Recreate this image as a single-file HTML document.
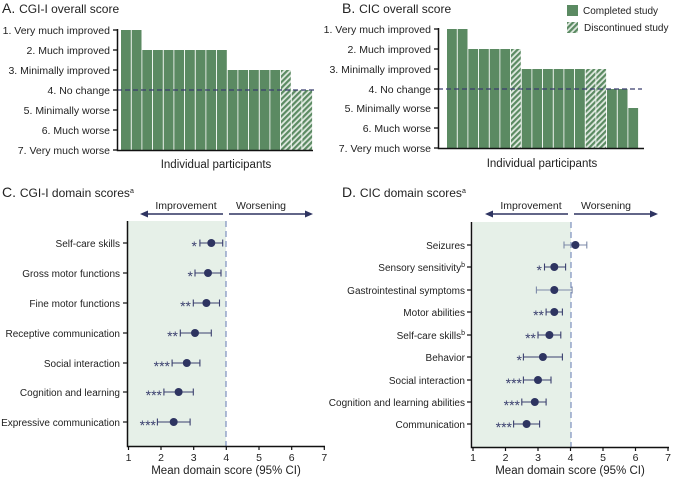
<!DOCTYPE html>
<html><head><meta charset="utf-8"><style>
html,body{margin:0;padding:0;background:#fff;}
svg{display:block;font-family:"Liberation Sans",sans-serif;}
</style></head><body>
<svg width="673" height="477" viewBox="0 0 673 477" xmlns="http://www.w3.org/2000/svg">
<defs>
<pattern id="h" width="4" height="4" patternUnits="userSpaceOnUse" patternTransform="rotate(45)">
<rect width="4" height="4" fill="#dfe9e0"/><rect width="2.2" height="4" fill="#5b8a62"/>
</pattern>
</defs>
<g fill="#222" font-size="11">
<text x="2" y="13" font-size="14">A. <tspan font-size="12">CGI-I overall score</tspan></text>
<text x="342" y="13" font-size="14">B. <tspan font-size="12">CIC overall score</tspan></text>
<text x="2" y="197" font-size="14">C. <tspan font-size="12">CGI-I domain scores<tspan font-size="7" dy="-4">a</tspan></tspan></text>
<text x="342" y="197" font-size="14">D. <tspan font-size="12">CIC domain scores<tspan font-size="7" dy="-4">a</tspan></tspan></text>
</g>
<!-- Legend -->
<rect x="567" y="5" width="11" height="11" fill="#5b8a62"/>
<text x="583" y="14" font-size="10" fill="#222">Completed study</text>
<rect x="567" y="22" width="11" height="11" fill="url(#h)"/>
<text x="584" y="31" font-size="10" fill="#222">Discontinued study</text>

<!-- Panel A -->
<g fill="#5b8a62">
<rect x="121" y="30" width="9.8" height="120"/><rect x="131.7" y="30" width="9.8" height="120"/>
<rect x="142.3" y="50" width="9.8" height="100"/><rect x="153" y="50" width="9.8" height="100"/><rect x="163.7" y="50" width="9.8" height="100"/><rect x="174.3" y="50" width="9.8" height="100"/><rect x="185" y="50" width="9.8" height="100"/><rect x="195.7" y="50" width="9.8" height="100"/><rect x="206.3" y="50" width="9.8" height="100"/><rect x="217" y="50" width="9.8" height="100"/>
<rect x="227.7" y="70" width="9.8" height="80"/><rect x="238.3" y="70" width="9.8" height="80"/><rect x="249" y="70" width="9.8" height="80"/><rect x="259.7" y="70" width="9.8" height="80"/><rect x="270.3" y="70" width="9.8" height="80"/>
<rect x="281" y="70" width="9.8" height="80" fill="url(#h)"/><rect x="291.7" y="90" width="9.8" height="60" fill="url(#h)"/><rect x="302.3" y="90" width="9.8" height="60" fill="url(#h)"/>
</g>
<line x1="117" y1="90" x2="316" y2="90" stroke="#3a3f6e" stroke-width="1.2" stroke-dasharray="5,3"/>
<path d="M117.5 29V150.5H313" fill="none" stroke="#111" stroke-width="1.5"/>
<g stroke="#111" stroke-width="1.3"><line x1="113" y1="30" x2="117" y2="30"/><line x1="113" y1="50" x2="117" y2="50"/><line x1="113" y1="70" x2="117" y2="70"/><line x1="113" y1="90" x2="117" y2="90"/><line x1="113" y1="110" x2="117" y2="110"/><line x1="113" y1="130" x2="117" y2="130"/><line x1="113" y1="150" x2="117" y2="150"/></g>
<g font-size="10.5" fill="#222" text-anchor="end">
<text x="110" y="34">1. Very much improved</text><text x="110" y="54">2. Much improved</text><text x="110" y="74">3. Minimally improved</text><text x="110" y="94">4. No change</text><text x="110" y="114">5. Minimally worse</text><text x="110" y="134">6. Much worse</text><text x="110" y="154">7. Very much worse</text>
</g>
<text x="216" y="168" font-size="11.5" fill="#222" text-anchor="middle">Individual participants</text>

<!-- Panel B -->
<g fill="#5b8a62">
<rect x="447" y="29" width="9.8" height="119"/><rect x="457.7" y="29" width="9.8" height="119"/>
<rect x="468.3" y="49" width="9.8" height="99"/><rect x="479" y="49" width="9.8" height="99"/><rect x="489.7" y="49" width="9.8" height="99"/><rect x="500.3" y="49" width="9.8" height="99"/>
<rect x="511" y="49" width="9.8" height="99" fill="url(#h)"/>
<rect x="521.7" y="69" width="9.8" height="79"/><rect x="532.3" y="69" width="9.8" height="79"/><rect x="543" y="69" width="9.8" height="79"/><rect x="553.7" y="69" width="9.8" height="79"/><rect x="564.3" y="69" width="9.8" height="79"/><rect x="575" y="69" width="9.8" height="79"/>
<rect x="585.7" y="69" width="9.8" height="79" fill="url(#h)"/><rect x="596.3" y="69" width="9.8" height="79" fill="url(#h)"/>
<rect x="607" y="89" width="9.8" height="59"/><rect x="617.7" y="89" width="9.8" height="59"/><rect x="628.3" y="108" width="9.8" height="40"/>
</g>
<line x1="438" y1="89" x2="642" y2="89" stroke="#3a3f6e" stroke-width="1.2" stroke-dasharray="5,3"/>
<path d="M438.5 28V148.5H644" fill="none" stroke="#111" stroke-width="1.5"/>
<g stroke="#111" stroke-width="1.3"><line x1="434" y1="29" x2="438" y2="29"/><line x1="434" y1="49" x2="438" y2="49"/><line x1="434" y1="69" x2="438" y2="69"/><line x1="434" y1="89" x2="438" y2="89"/><line x1="434" y1="108" x2="438" y2="108"/><line x1="434" y1="128" x2="438" y2="128"/><line x1="434" y1="148" x2="438" y2="148"/></g>
<g font-size="10.5" fill="#222" text-anchor="end">
<text x="431" y="33">1. Very much improved</text><text x="431" y="53">2. Much improved</text><text x="431" y="73">3. Minimally improved</text><text x="431" y="93">4. No change</text><text x="431" y="112">5. Minimally worse</text><text x="431" y="132">6. Much worse</text><text x="431" y="152">7. Very much worse</text>
</g>
<text x="542" y="167" font-size="11.5" fill="#222" text-anchor="middle">Individual participants</text>

<!-- Panel C -->
<rect x="128" y="221" width="98" height="225" fill="#e6f0e8"/>
<line x1="226" y1="221" x2="226" y2="446" stroke="#7d8fbf" stroke-width="1.2" stroke-dasharray="6,4"/>
<path d="M127.5 221V446.5H325" fill="none" stroke="#111" stroke-width="1.5"/>
<g stroke="#111" stroke-width="1.2"><line x1="128.5" y1="446" x2="128.5" y2="450"/><line x1="161" y1="446" x2="161" y2="450"/><line x1="193.7" y1="446" x2="193.7" y2="450"/><line x1="226.3" y1="446" x2="226.3" y2="450"/><line x1="259" y1="446" x2="259" y2="450"/><line x1="291.7" y1="446" x2="291.7" y2="450"/><line x1="324.3" y1="446" x2="324.3" y2="450"/>
<line x1="123" y1="243" x2="127" y2="243"/><line x1="123" y1="273" x2="127" y2="273"/><line x1="123" y1="303" x2="127" y2="303"/><line x1="123" y1="333" x2="127" y2="333"/><line x1="123" y1="363" x2="127" y2="363"/><line x1="123" y1="392" x2="127" y2="392"/><line x1="123" y1="422" x2="127" y2="422"/></g>
<g font-size="10.5" fill="#222" text-anchor="middle"><text x="128.5" y="461">1</text><text x="161" y="461">2</text><text x="193.7" y="461">3</text><text x="226.3" y="461">4</text><text x="259" y="461">5</text><text x="291.7" y="461">6</text><text x="324.3" y="461">7</text></g>
<text x="226" y="474" font-size="11.5" fill="#222" text-anchor="middle">Mean domain score (95% CI)</text>
<g font-size="10" fill="#222" text-anchor="end">
<text x="120" y="247">Self-care skills</text><text x="120" y="277">Gross motor functions</text><text x="120" y="307">Fine motor functions</text><text x="120" y="337">Receptive communication</text><text x="120" y="367">Social interaction</text><text x="120" y="396">Cognition and learning</text><text x="120" y="426">Expressive communication</text>
</g>
<text x="186" y="209" font-size="10.5" fill="#222" text-anchor="middle">Improvement</text>
<text x="261" y="209" font-size="10.5" fill="#222" text-anchor="middle">Worsening</text>
<g stroke="#2e3461" stroke-width="1.6" fill="#2e3461">
<line x1="146" y1="214" x2="223" y2="214"/><path d="M140 214l8-3.5v7z" stroke="none"/>
<line x1="229" y1="214" x2="306" y2="214"/><path d="M313 214l-8-3.5v7z" stroke="none"/>
</g>
<g stroke="#3a3f6e" stroke-width="1.1">
<path d="M199.9 243H222.7M199.9 239.5v7M222.7 239.5v7"/>
<path d="M195 273H221M195 269.5v7M221 269.5v7"/>
<path d="M193.3 303H219.5M193.3 299.5v7M219.5 299.5v7"/>
<path d="M180.3 333H211.3M180.3 329.5v7M211.3 329.5v7"/>
<path d="M172.1 363H199.9M172.1 359.5v7M199.9 359.5v7"/>
<path d="M163.9 392H193.3M163.9 388.5v7M193.3 388.5v7"/>
<path d="M157.4 422H190.1M157.4 418.5v7M190.1 418.5v7"/>
</g>
<g fill="#2e3461"><circle cx="211.3" cy="243" r="4"/><circle cx="208" cy="273" r="4"/><circle cx="206.4" cy="303" r="4"/><circle cx="195" cy="333" r="4"/><circle cx="186.8" cy="363" r="4"/><circle cx="178.6" cy="392" r="4"/><circle cx="173.7" cy="422" r="4"/></g>
<g font-size="14" fill="#3a3f6e" text-anchor="end">
<text x="197" y="251">*</text><text x="193" y="281">*</text><text x="191" y="311">**</text><text x="178" y="341">**</text><text x="170" y="371">***</text><text x="162" y="400">***</text><text x="156" y="430">***</text>
</g>

<!-- Panel D -->
<rect x="473" y="222" width="98" height="225" fill="#e6f0e8"/>
<line x1="571" y1="222" x2="571" y2="447" stroke="#7d8fbf" stroke-width="1.2" stroke-dasharray="6,4"/>
<path d="M471.5 222V447.5H669" fill="none" stroke="#111" stroke-width="1.5"/>
<g stroke="#111" stroke-width="1.2"><line x1="473" y1="447" x2="473" y2="451"/><line x1="505.5" y1="447" x2="505.5" y2="451"/><line x1="538" y1="447" x2="538" y2="451"/><line x1="570.5" y1="447" x2="570.5" y2="451"/><line x1="603" y1="447" x2="603" y2="451"/><line x1="635.5" y1="447" x2="635.5" y2="451"/><line x1="668" y1="447" x2="668" y2="451"/>
<line x1="467" y1="245" x2="471" y2="245"/><line x1="467" y1="267" x2="471" y2="267"/><line x1="467" y1="290" x2="471" y2="290"/><line x1="467" y1="312" x2="471" y2="312"/><line x1="467" y1="335" x2="471" y2="335"/><line x1="467" y1="357" x2="471" y2="357"/><line x1="467" y1="380" x2="471" y2="380"/><line x1="467" y1="402" x2="471" y2="402"/><line x1="467" y1="424" x2="471" y2="424"/></g>
<g font-size="10.5" fill="#222" text-anchor="middle"><text x="473" y="461">1</text><text x="505.5" y="461">2</text><text x="538" y="461">3</text><text x="570.5" y="461">4</text><text x="603" y="461">5</text><text x="635.5" y="461">6</text><text x="668" y="461">7</text></g>
<text x="570" y="474" font-size="11.5" fill="#222" text-anchor="middle">Mean domain score (95% CI)</text>
<g font-size="10" fill="#222" text-anchor="end">
<text x="465" y="249">Seizures</text><text x="465" y="271">Sensory sensitivity<tspan font-size="7" dy="-4">b</tspan></text><text x="465" y="294">Gastrointestinal symptoms</text><text x="465" y="316">Motor abilities</text><text x="465" y="339">Self-care skills<tspan font-size="7" dy="-4">b</tspan></text><text x="465" y="361">Behavior</text><text x="465" y="384">Social interaction</text><text x="465" y="406">Cognition and learning abilities</text><text x="465" y="428">Communication</text>
</g>
<text x="531" y="209" font-size="10.5" fill="#222" text-anchor="middle">Improvement</text>
<text x="606" y="209" font-size="10.5" fill="#222" text-anchor="middle">Worsening</text>
<g stroke="#2e3461" stroke-width="1.6" fill="#2e3461">
<line x1="491" y1="214" x2="568" y2="214"/><path d="M485 214l8-3.5v7z" stroke="none"/>
<line x1="574" y1="214" x2="651" y2="214"/><path d="M658 214l-8-3.5v7z" stroke="none"/>
</g>
<g stroke="#7d8aa8" stroke-width="1.1">
<path d="M564 245H586.8M564 241.5v7M586.8 241.5v7"/>
<path d="M536.4 290H572.1M536.4 286.5v7M572.1 286.5v7"/>
</g>
<g stroke="#3a3f6e" stroke-width="1.1">
<path d="M544.5 267H565.6M544.5 263.5v7M565.6 263.5v7"/>
<path d="M546.1 312H562.4M546.1 308.5v7M562.4 308.5v7"/>
<path d="M538 335H560.8M538 331.5v7M560.8 331.5v7"/>
<path d="M523.4 357H562.4M523.4 353.5v7M562.4 353.5v7"/>
<path d="M523.4 380H551M523.4 376.5v7M551 376.5v7"/>
<path d="M521.8 402H546.1M521.8 398.5v7M546.1 398.5v7"/>
<path d="M513.6 424H539.6M513.6 420.5v7M539.6 420.5v7"/>
</g>
<g fill="#2e3461"><circle cx="575.4" cy="245" r="4"/><circle cx="554.3" cy="267" r="4"/><circle cx="554.3" cy="290" r="4"/><circle cx="554.3" cy="312" r="4"/><circle cx="549.4" cy="335" r="4"/><circle cx="542.9" cy="357" r="4"/><circle cx="538" cy="380" r="4"/><circle cx="534.8" cy="402" r="4"/><circle cx="526.6" cy="424" r="4"/></g>
<g font-size="14" fill="#3a3f6e" text-anchor="end">
<text x="542" y="275">*</text><text x="544" y="320">**</text><text x="536" y="343">**</text><text x="522" y="365">*</text><text x="522" y="388">***</text><text x="520" y="410">***</text><text x="512" y="432">***</text>
</g>
</svg>
</body></html>
